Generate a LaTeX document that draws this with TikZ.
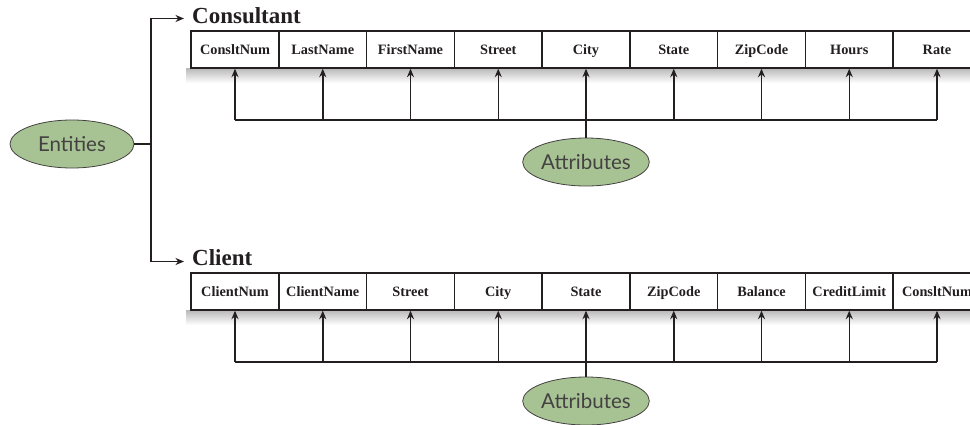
\documentclass[tikz,border=0pt]{standalone}
\usepackage{fontspec}
\newfontfamily\lato{Lato}
\newfontfamily\tabfont{Liberation Serif}
\usetikzlibrary{shapes.geometric,arrows.meta}
\definecolor{ink}{HTML}{231F20}
\definecolor{ovalfill}{RGB}{167,195,147}
\tikzset{
 cell/.style={draw=ink, line width=1.3pt, minimum width=87.75pt, minimum height=37pt, inner sep=0pt,
   text height=11pt, text depth=2pt,
   font=\tabfont\fontsize{14.3}{16}\selectfont\bfseries, text=ink},
 oval/.style={ellipse, draw=ink!85, line width=0.8pt, fill=ovalfill, minimum width=124pt, minimum height=48pt,
   inner sep=0pt, font=\lato\fontsize{20.5}{24}\selectfont, text=ink!85},
 title/.style={anchor=base west, inner sep=0pt, font=\tabfont\fontsize{23}{26}\selectfont\bfseries, text=ink},
 conn/.style={draw=ink, line width=1.5pt},
 arr/.style={conn, -{Stealth[length=8.5pt,width=7pt]}},
 shade/.style={top color=black!28, bottom color=white, draw=none},
}
\begin{document}
\begin{tikzpicture}[x=1pt,y=-1pt]
\useasboundingbox (0,0) rectangle (970,424);
\clip (0,0) rectangle (970,424);

% shadows under tables
\shade[shade] (186,68) rectangle (985,83);
\shade[shade] (186,310) rectangle (985,325);

% titles
\node[title] (tc) at (192,23) {Consultant};
\node[title] (tl) at (192,265.5) {Client};

% Consultant table
\foreach \n [count=\i from 0] in {ConsltNum,LastName,FirstName,Street,City,State,ZipCode,Hours,Rate}
  \node[cell, fill=white] (a\i) at ({235+87.75*\i},49.5) {\n};

% Client table
\foreach \n [count=\i from 0] in {ClientNum,ClientName,Street,City,State,ZipCode,Balance,CreditLimit,ConsltNum}
  \node[cell, fill=white] (b\i) at ({235+87.75*\i},291.5) {\n};

% ovals
\node[oval] (ent) at (72,144) {Entities};
\node[oval] (at1) at (586,162) {Attributes};
\node[oval] (at2) at (586,401) {Attributes};

% entity connectors
\coordinate (j) at (151,144);
\coordinate (t1) at (184,18.5);
\coordinate (t2) at (184,261.5);
\draw[conn] (ent) -- (j);
\draw[arr] (j) |- (t1);
\draw[arr] (j) |- (t2);

% attribute connectors
\coordinate (h1) at (0,120);
\coordinate (h2) at (0,362);
\draw[conn] (a0.south |- h1) -- (a8.south |- h1);
\draw[conn] (b0.south |- h2) -- (b8.south |- h2);
\foreach \i in {0,...,8}{
  \draw[arr] (a\i.south |- h1) -- (a\i.south);
  \draw[arr] (b\i.south |- h2) -- (b\i.south);
}
\draw[conn] (at1) -- (a4.south |- h1);
\draw[conn] (at2) -- (b4.south |- h2);
\end{tikzpicture}
\end{document}
